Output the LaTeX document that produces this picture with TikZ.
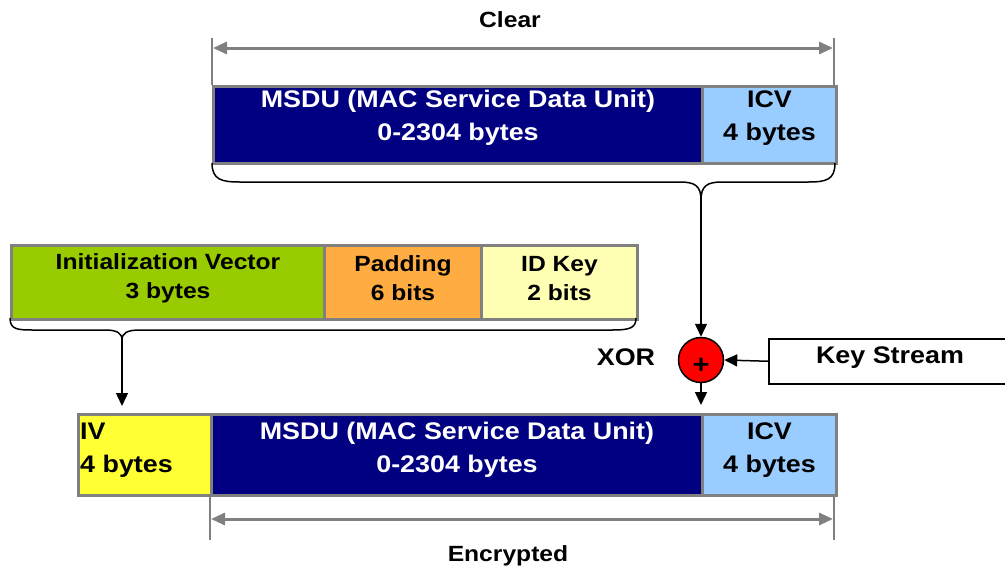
\documentclass[tikz,border=0pt]{standalone}
\usepackage{fontspec}
\setmainfont{Liberation Sans}[FakeStretch=1.12]
\usetikzlibrary{arrows.meta}
\definecolor{navy}{HTML}{000080}
\definecolor{icvblue}{HTML}{99CCFF}
\definecolor{ivgreen}{HTML}{99CC00}
\definecolor{padorange}{HTML}{FFAD42}
\definecolor{idyellow}{HTML}{FFFFB3}
\definecolor{ivyellow}{HTML}{FFFF33}
\definecolor{edgegray}{HTML}{808080}
\begin{document}
\begin{tikzpicture}[x=1pt,y=-1pt,
  big/.style={font=\fontsize{24}{33}\selectfont\bfseries, align=center, inner sep=0pt},
  mid/.style={font=\fontsize{22}{29}\selectfont\bfseries, align=center, inner sep=0pt},
  field/.style={draw=edgegray, line width=3pt, anchor=north west, inner sep=0pt},
  dimline/.style={draw=edgegray, line width=3pt, {Triangle[length=14pt,width=12pt]}-{Triangle[length=14pt,width=12pt]}},
  extline/.style={draw=edgegray, line width=2pt},
  brace/.style={draw=black, line width=1.5pt},
  flow/.style={draw=black, line width=1.5pt, -{Triangle[length=13pt,width=12pt]}},
]
\useasboundingbox (0,0) rectangle (1005,571);

% top row
\node[field, fill=navy, minimum width=489pt, minimum height=77pt] (msduA) at (212,85) {};
\node[field, fill=icvblue, minimum width=134pt, minimum height=77pt] (icvA) at (701,85) {};
\node[big, text=white] (msduAt) at ([yshift=7pt]msduA.center) {MSDU (MAC Service Data Unit)\\0-2304 bytes};
\node[big] (icvAt) at ([yshift=7pt]icvA.center) {ICV\\4 bytes};
\node[mid] (clear) at (510,20) {Clear};
\coordinate (cL1) at (212,38); \coordinate (cL2) at (212,85);
\coordinate (cR1) at (834,38); \coordinate (cR2) at (834,85);
\draw[extline] (cL1) -- (cL2);
\draw[extline] (cR1) -- (cR2);
\draw[dimline] (213,48) -- (833,48);

% top brace
\coordinate (tbTip) at (701,200);
\draw[brace] (212,163) .. controls (212,180) and (222,182) .. (240,182) -- (680,182)
  .. controls (695,182) and (701,186) .. (tbTip)
  .. controls (701,186) and (707,182) .. (722,182) -- (808,182)
  .. controls (826,182) and (835,180) .. (835,163);

% middle row
\node[field, fill=ivgreen, minimum width=313pt, minimum height=74pt] (initv) at (10,244) {};
\node[field, fill=padorange, minimum width=157pt, minimum height=74pt] (pad) at (323,244) {};
\node[field, fill=idyellow, minimum width=156pt, minimum height=74pt] (idkey) at (480,244) {};
\node[mid] (initvt) at ([yshift=4pt]initv.center) {Initialization Vector\\3 bytes};
\node[mid] (padt) at ([yshift=4pt]pad.center) {Padding\\6 bits};
\node[mid] (idkeyt) at ([yshift=4pt]idkey.center) {ID Key\\2 bits};

% middle brace
\coordinate (mbTip) at (122,340);
\draw[brace] (10,318) .. controls (10,330) and (18,330) .. (35,330) -- (105,330)
  .. controls (117,330) and (122,333) .. (mbTip)
  .. controls (122,333) and (127,330) .. (140,330) -- (612,330)
  .. controls (630,330) and (636,328) .. (636,318);

% xor
\node[circle, draw=black, line width=1.5pt, fill=red, minimum size=45pt, inner sep=0pt] (xor) at (701,360) {};
\node[font=\fontsize{26}{26}\selectfont\bfseries, inner sep=0pt] (plus) at (701,366) {+};
\node[big] (xorlbl) at (626,357) {XOR};
\node[draw=black, line width=1.5pt, fill=white, anchor=north west, minimum width=245pt, minimum height=45pt, inner sep=0pt] (ks) at (768,338) {};
\node[big] (kstext) at (890,358) {Key Stream};

\draw[flow] (tbTip) -- (xor.north);
\draw[flow] (ks.west) -- (xor.east);
\coordinate (xorEnd) at (701,405);
\draw[flow] (xor.south) -- (xorEnd);
\coordinate (ivEnd) at (122,406);
\draw[flow] (mbTip) -- (ivEnd);

% bottom row
\node[field, fill=ivyellow, minimum width=133pt, minimum height=81pt] (ivB) at (77,413) {};
\node[field, fill=navy, minimum width=491pt, minimum height=81pt] (msduB) at (210,413) {};
\node[field, fill=icvblue, minimum width=134pt, minimum height=81pt] (icvB) at (701,413) {};
\node[big, anchor=west, align=left] (ivtext) at ([xshift=3pt,yshift=5pt]ivB.west) {IV\\4 bytes};
\node[big, text=white] (msduBt) at ([yshift=5pt]msduB.center) {MSDU (MAC Service Data Unit)\\0-2304 bytes};
\node[big] (icvBt) at ([yshift=5pt]icvB.center) {ICV\\4 bytes};

\coordinate (eL1) at (210,494); \coordinate (eL2) at (210,540);
\coordinate (eR1) at (834,494); \coordinate (eR2) at (834,540);
\draw[extline] (eL1) -- (eL2);
\draw[extline] (eR1) -- (eR2);
\draw[dimline] (211,519) -- (833,519);
\node[mid] (enc) at (508,556) {Encrypted};
\end{tikzpicture}
\end{document}
